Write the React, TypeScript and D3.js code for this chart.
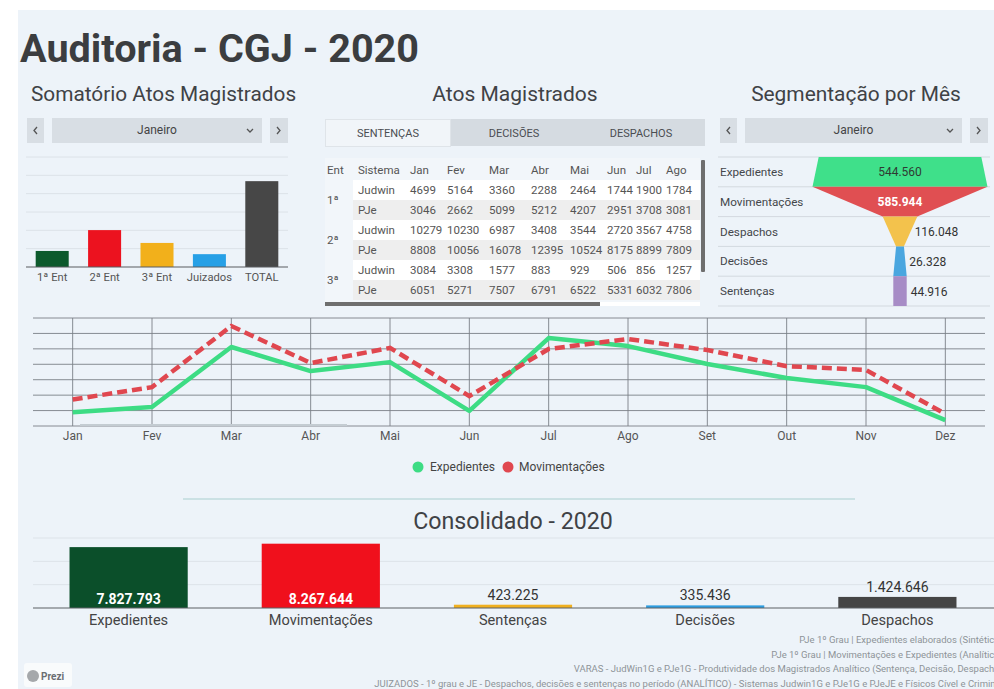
import React from 'react';
import * as d3 from 'd3';

// ---------- DATA ----------
const somatorioCats = ['1ª Ent', '2ª Ent', '3ª Ent', 'Juizados', 'TOTAL'];
const somatorioVals = [35000, 80500, 52500, 28000, 187292];

const tabLabels = ['SENTENÇAS', 'DECISÕES', 'DESPACHOS'];
const tableMonths = ['Jan', 'Fev', 'Mar', 'Abr', 'Mai', 'Jun', 'Jul', 'Ago'];
const tableEnts = ['1ª', '2ª', '3ª'];
const tableSistemas = ['Judwin', 'PJe'];
const ent1Judwin = [4699, 5164, 3360, 2288, 2464, 1744, 1900, 1784];
const ent1PJe = [3046, 2662, 5099, 5212, 4207, 2951, 3708, 3081];
const ent2Judwin = [10279, 10230, 6987, 3408, 3544, 2720, 3567, 4758];
const ent2PJe = [8808, 10056, 16078, 12395, 10524, 8175, 8899, 7809];
const ent3Judwin = [3084, 3308, 1577, 883, 929, 506, 856, 1257];
const ent3PJe = [6051, 5271, 7507, 6791, 6522, 5331, 6032, 7806];

const funnelCats = ['Expedientes', 'Movimentações', 'Despachos', 'Decisões', 'Sentenças'];
const funnelVals = [544560, 585944, 116048, 26328, 44916];

const months = ['Jan', 'Fev', 'Mar', 'Abr', 'Mai', 'Jun', 'Jul', 'Ago', 'Set', 'Out', 'Nov', 'Dez'];
const expedientes = [544560, 561600, 756000, 678000, 707000, 549000, 785000, 759000, 701000, 655500, 626000, 519000];
const movimentacoes = [585944, 626000, 824000, 704000, 753000, 597000, 749500, 782000, 746000, 694000, 681500, 539000];
const seriesNames = ['Expedientes', 'Movimentações'];

const consolidCats = ['Expedientes', 'Movimentações', 'Sentenças', 'Decisões', 'Despachos'];
const consolidVals = [7827793, 8267644, 423225, 335436, 1424646];

const monthSelected = 'Janeiro';
const footerLines = [
  'PJe 1º Grau | Expedientes elaborados (Sintético)',
  'PJe 1º Grau | Movimentações e Expedientes (Analítico)',
  'VARAS - JudWin1G e PJe1G - Produtividade dos Magistrados Analítico (Sentença, Decisão, Despacho)',
  'JUIZADOS - 1º grau e JE - Despachos, decisões e sentenças no período (ANALÍTICO) - Sistemas Judwin1G e PJe1G e PJeJE e Físicos Cível e Criminal',
];

// ---------- STYLE ----------
const FONT = 'Roboto, "Noto Sans", sans-serif';
const BG = '#edf3f9';
const TXT = '#3f4246';
const somColors = ['#0c5a2c', '#ec121f', '#f2b01b', '#27a0e6', '#474747'];
const funnelColors = ['#3fe08a', '#e04f52', '#f3c24c', '#4aa6df', '#a78cc6'];
const consColors = ['#0b4f2a', '#f0101c', '#f0b020', '#2d9de0', '#454545'];
const GREEN = '#3ddc84';
const RED = '#e0474f';

const locale = d3.formatLocale({ decimal: ',', thousands: '.', grouping: [3], currency: ['R$', ''] });
const fmt = locale.format(',d');

function Dropdown({ x0, x1, label }: { x0: number; x1: number; label: string }) {
  const y = 118, h = 25;
  return (
    <g>
      <rect x={x0} y={y} width={17} height={h} fill="#d8dee4" />
      <path d={`M${x0 + 10},${y + 9} L${x0 + 7},${y + 12.5} L${x0 + 10},${y + 16}`} fill="none" stroke="#555" strokeWidth={1.3} />
      <rect x={x0 + 25} y={y} width={x1 - x0 - 51} height={h} fill="#d8dee4" />
      <text x={(x0 + 25 + x1 - 26) / 2} y={y + 16} textAnchor="middle" fontSize={12} fill="#444" fontFamily={FONT}>{label}</text>
      <path d={`M${x1 - 41},${y + 11} L${x1 - 38},${y + 14} L${x1 - 35},${y + 11}`} fill="none" stroke="#555" strokeWidth={1.3} />
      <rect x={x1 - 18} y={y} width={18} height={h} fill="#d8dee4" />
      <path d={`M${x1 - 11},${y + 9} L${x1 - 8},${y + 12.5} L${x1 - 11},${y + 16}`} fill="none" stroke="#555" strokeWidth={1.3} />
    </g>
  );
}

export default function App() {
  // ---- Somatório bar chart ----
  const sx = d3.scaleBand<string>().domain(somatorioCats).range([26, 288]).paddingInner(0.37).paddingOuter(0.185);
  const sy = d3.scaleLinear().domain([0, 240000]).range([267, 157]);
  const sTicks = d3.range(40000, 240001, 40000);

  // ---- Table ----
  const tableRows = [ent1Judwin, ent1PJe, ent2Judwin, ent2PJe, ent3Judwin, ent3PJe];
  const colX = [410, 447, 489, 531, 570, 607, 636, 666];
  const rowY = d3.scaleBand<number>().domain(d3.range(tableRows.length)).range([180, 300]);

  // ---- Funnel ----
  const fy = d3.scaleBand<string>().domain(funnelCats).range([157, 306]);
  const fw = d3.scaleLinear().domain([0, d3.max(funnelVals) as number]).range([0, 175]);
  const fcx = 900;

  // ---- Line chart ----
  const lx = d3.scalePoint<string>().domain(months).range([33, 985]).padding(0.5);
  const ly = d3.scaleLinear().domain([500000, 850000]).range([426, 318]);
  const lTicks = d3.range(500000, 850001, 50000);
  const line = d3.line<number>().x((_, i) => lx(months[i]) as number).y((d) => ly(d));

  // ---- Consolidado ----
  const cx = d3.scaleBand<string>().domain(consolidCats).range([33, 993]).paddingInner(0.385).paddingOuter(0.19);
  const cy = d3.scaleLinear().domain([0, 9000000]).range([608, 538]);
  const cTicks = [3000000, 6000000, 9000000];

  return (
    <div style={{ position: 'absolute', left: 0, top: 0, width: 994, height: 689, overflow: 'hidden', background: '#fff' }}>
      <svg width={994} height={689} style={{ display: 'block' }} fontFamily={FONT}>
        <defs>
          <clipPath id="tblclip"><rect x={325} y={155} width={375} height={150} /></clipPath>
        </defs>
        <rect x={18} y={10} width={976} height={679} fill={BG} />

        {/* Title */}
        <text x={20} y={62} fontSize={39.6} fontWeight={700} fill="#3b3d40">Auditoria - CGJ - 2020</text>

        {/* Section titles */}
        <text x={31} y={101} fontSize={20.8} fill={TXT}>Somatório Atos Magistrados</text>
        <text x={515} y={101} fontSize={21} fill={TXT} textAnchor="middle">Atos Magistrados</text>
        <text x={856} y={101} fontSize={20.9} fill={TXT} textAnchor="middle">Segmentação por Mês</text>

        {/* Dropdowns */}
        <Dropdown x0={27} x1={288} label={monthSelected} />
        <Dropdown x0={720} x1={988} label={monthSelected} />

        {/* Somatório chart */}
        <g>
          {sTicks.map((t) => (
            <line key={t} x1={26} x2={288} y1={sy(t)} y2={sy(t)} stroke="#dce2e8" strokeWidth={1} />
          ))}
          {somatorioCats.map((c, i) => (
            <rect key={c} x={sx(c)} y={sy(somatorioVals[i])} width={sx.bandwidth()} height={sy(0) - sy(somatorioVals[i])} fill={somColors[i]} />
          ))}
          <line x1={26} x2={288} y1={sy(0)} y2={sy(0)} stroke="#5a5d61" strokeWidth={1.2} />
          {somatorioCats.map((c) => (
            <text key={c} x={(sx(c) as number) + sx.bandwidth() / 2} y={281} fontSize={11.2} fill="#555" textAnchor="middle">{c}</text>
          ))}
        </g>

        {/* Tabs */}
        <g>
          <rect x={325} y={119} width={380} height={27} fill="#d5dbe1" />
          <rect x={325.5} y={119.5} width={125} height={27} fill="#f1f5f9" stroke="#dfe4e9" />
          {tabLabels.map((t, i) => (
            <text key={t} x={[388, 514, 641][i]} y={137} fontSize={11} fill="#4a4d51" textAnchor="middle">{t}</text>
          ))}
        </g>

        {/* Table */}
        <g clipPath="url(#tblclip)">
          <rect x={325} y={158} width={375} height={144} fill="#f2f6fa" />
          {tableRows.map((_, r) => (
            <rect key={r} x={353} y={rowY(r)} width={350} height={rowY.bandwidth()} fill={r % 2 === 0 ? '#ffffff' : '#eeeeee'} />
          ))}
          <text x={327} y={174} fontSize={11.5} fill="#555">Ent</text>
          <text x={358} y={174} fontSize={11.5} fill="#555">Sistema</text>
          {tableMonths.map((m, j) => (
            <text key={m} x={colX[j]} y={174} fontSize={11.5} fill="#555">{m}</text>
          ))}
          {tableEnts.map((e, k) => (
            <text key={e} x={327} y={(rowY(k * 2) as number) + rowY.bandwidth() + 4} fontSize={11.5} fill="#555">{e}</text>
          ))}
          {tableRows.map((row, r) => (
            <g key={r}>
              <text x={358} y={(rowY(r) as number) + 14} fontSize={11.5} fill="#555">{tableSistemas[r % 2]}</text>
              {row.map((v, j) => (
                <text key={j} x={colX[j]} y={(rowY(r) as number) + 14} fontSize={11.5} fill="#555">{v}</text>
              ))}
            </g>
          ))}
        </g>
        <rect x={701} y={160} width={4} height={112} fill="#6e6e6e" rx={1} />
        <rect x={325} y={302} width={375} height={4} fill="#ffffff" />
        <rect x={325} y={302} width={275} height={4} fill="#6e6e6e" />

        {/* Funnel */}
        <g>
          {funnelCats.map((c) => (
            <line key={c} x1={718} x2={990} y1={fy(c)} y2={fy(c)} stroke="#d3d9df" />
          ))}
          <line x1={718} x2={990} y1={306} y2={306} stroke="#d3d9df" />
          {funnelCats.map((c, i) => {
            const top = fy(c) as number;
            const bot = top + fy.bandwidth();
            const wt = fw(funnelVals[i]);
            const wb = i < funnelVals.length - 1 ? fw(funnelVals[i + 1]) : wt;
            const d = `M${fcx - wt / 2},${top} L${fcx + wt / 2},${top} L${fcx + wb / 2},${bot} L${fcx - wb / 2},${bot} Z`;
            return <path key={c} d={d} fill={funnelColors[i]} />;
          })}
          {funnelCats.map((c, i) => {
            const top = fy(c) as number;
            const mid = top + fy.bandwidth() / 2;
            const wt = fw(funnelVals[i]);
            const wb = i < funnelVals.length - 1 ? fw(funnelVals[i + 1]) : wt;
            const wm = (wt + wb) / 2;
            const inside = wm > 80;
            return (
              <g key={c}>
                <text x={720} y={mid + 4} fontSize={11.7} fill="#44474b">{c}</text>
                {inside ? (
                  <text x={fcx} y={mid + 4.5} fontSize={12} textAnchor="middle" fill={i === 1 ? '#ffffff' : '#2f3a33'} fontWeight={i === 1 ? 700 : 400}>{fmt(funnelVals[i])}</text>
                ) : (
                  <text x={fcx + wm / 2 + 4} y={mid + 4.5} fontSize={12} fill="#333">{fmt(funnelVals[i])}</text>
                )}
              </g>
            );
          })}
        </g>

        {/* Line chart */}
        <g>
          {lTicks.map((t) => (
            <line key={t} x1={33} x2={985} y1={ly(t)} y2={ly(t)} stroke="#7a8087" strokeWidth={0.9} />
          ))}
          {months.map((m) => (
            <line key={m} x1={lx(m)} x2={lx(m)} y1={318} y2={426} stroke="#7a8087" strokeWidth={0.9} />
          ))}
          <line x1={80} x2={347} y1={425} y2={425} stroke="#c4ccd2" strokeWidth={2} />
          <path d={line(expedientes) as string} fill="none" stroke={GREEN} strokeWidth={4.5} strokeLinejoin="round" />
          <path d={line(movimentacoes) as string} fill="none" stroke={RED} strokeWidth={4.5} strokeDasharray="10,5" />
          {months.map((m) => (
            <text key={m} x={lx(m)} y={440} fontSize={12} fill="#555" textAnchor="middle">{m}</text>
          ))}
          <circle cx={418} cy={467} r={5.5} fill={GREEN} />
          <text x={430} y={471} fontSize={12} fill="#444">{seriesNames[0]}</text>
          <circle cx={508} cy={467} r={5.5} fill={RED} />
          <text x={519} y={471} fontSize={12} fill="#444">{seriesNames[1]}</text>
        </g>

        {/* Separator */}
        <line x1={183} x2={855} y1={499} y2={499} stroke="#a9d0d0" strokeWidth={1.2} />
        <text x={513} y={529} fontSize={23.2} fill={TXT} textAnchor="middle">Consolidado - 2020</text>

        {/* Consolidado chart */}
        <g>
          {cTicks.map((t) => (
            <line key={t} x1={33} x2={994} y1={cy(t)} y2={cy(t)} stroke="#dde3e9" />
          ))}
          {consolidCats.map((c, i) => (
            <rect key={c} x={cx(c)} y={cy(consolidVals[i])} width={cx.bandwidth()} height={cy(0) - cy(consolidVals[i])} fill={consColors[i]} />
          ))}
          <line x1={33} x2={994} y1={cy(0)} y2={cy(0)} stroke="#5d6065" strokeWidth={1.2} />
          {consolidCats.map((c, i) => {
            const h = cy(0) - cy(consolidVals[i]);
            const xm = (cx(c) as number) + cx.bandwidth() / 2;
            return (
              <g key={c}>
                {h > 25 ? (
                  <text x={xm} y={604} fontSize={14} fontWeight={700} fill="#fff" textAnchor="middle">{fmt(consolidVals[i])}</text>
                ) : (
                  <text x={xm} y={cy(consolidVals[i]) - 5} fontSize={14} fill="#333" textAnchor="middle">{fmt(consolidVals[i])}</text>
                )}
                <text x={xm} y={625} fontSize={14.6} fill="#444" textAnchor="middle">{c}</text>
              </g>
            );
          })}
        </g>

        {/* Footer */}
        {footerLines.map((l, i) => (
          <text key={i} x={1003} y={643 + i * 14.7} fontSize={9.5} fill="#8e9398" textAnchor="end">{l}</text>
        ))}

        {/* Prezi badge */}
        <rect x={24} y={663} width={48} height={24} rx={3} fill="#f9fbfc" />
        <circle cx={33} cy={676} r={6} fill="#a5a8ab" />
        <text x={41} y={680} fontSize={10} fontWeight={700} fill="#6b6e72">Prezi</text>
      </svg>
    </div>
  );
}
